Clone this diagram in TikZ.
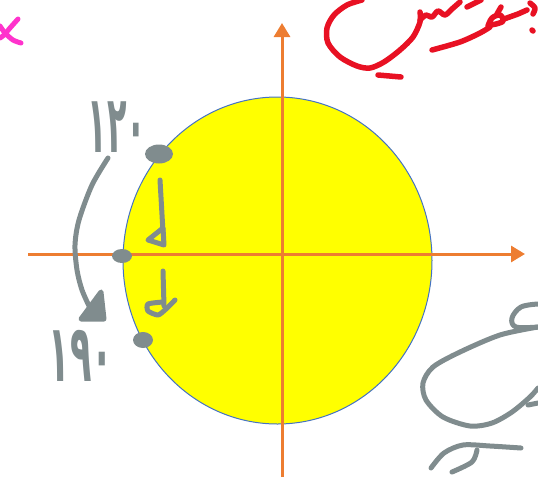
\documentclass[tikz,border=0pt]{standalone}
\usepackage{fontspec}
\newfontfamily\fadigits{DejaVu Sans}
\usetikzlibrary{arrows.meta,shapes.geometric}
\definecolor{axisorange}{RGB}{237,125,49}
\definecolor{circblue}{RGB}{68,114,196}
\definecolor{circyellow}{RGB}{255,255,0}
\definecolor{inkgray}{RGB}{128,140,142}
\definecolor{inkred}{RGB}{232,17,35}
\definecolor{inkpink}{RGB}{255,51,204}
\tikzset{
  axisline/.style={draw=axisorange, line width=3pt, -{Triangle[width=16pt,length=14pt]}},
  pen/.style={line width=5pt, line cap=round, line join=round},
  graypen/.style={pen, draw=inkgray},
  redpen/.style={pen, draw=inkred, line width=5.5pt},
  pinkpen/.style={pen, draw=inkpink},
  blob/.style={ellipse, fill=inkgray, inner sep=0pt},
  digits/.style={text=inkgray, font=\fadigits\bfseries\fontsize{80}{80}\selectfont, inner sep=0pt}
}
\begin{document}
\begin{tikzpicture}[x=1pt,y=-1pt]
\useasboundingbox (0,0) rectangle (538,477);
% circle
\node[ellipse, draw=circblue, line width=1pt, fill=circyellow, minimum width=309pt, minimum height=327pt, inner sep=0pt] (circ) at (277.5,260.5) {};
% axes
\coordinate (xl) at (28,254);
\coordinate (xr) at (525,254);
\coordinate (yb) at (282,477);
\coordinate (yt) at (282,23);
\draw[axisline] (xl) -- (xr);
\draw[axisline] (yb) -- (yt);
% gray dots
\node[blob, minimum width=28pt, minimum height=19pt] (d1) at (159,154) {};
\node[blob, minimum width=20pt, minimum height=14pt] (d2) at (122,256) {};
\node[blob, minimum width=20pt, minimum height=16pt] (d3) at (143,340) {};
% digits
\node[digits] (t1) at (117,127) {\scalebox{0.40}[1]{۱۲۰}};
\node[digits] (t2) at (81,356) {\scalebox{0.44}[1]{۱۹۰}};
% big curved arrow
\draw[graypen] plot[smooth] coordinates {(108,158) (92,185) (79,220) (75,245) (77,270) (82,290) (90,308)};
\draw[graypen, fill=inkgray] (81,319) -- (104,319) -- (101,292) -- cycle;
% small arrows
\draw[graypen] (160,180) -- (163,232);
\draw[graypen] (163,228) -- (148,240) -- (164,245) -- cycle;
\draw[graypen] (163,271) -- (164,306);
\draw[graypen] plot[smooth, tension=0.4] coordinates {(163,302) (148,304) (148,311) (158,315) (166,309) (175,300)};
% bird-like scribble bottom right
\draw[graypen] plot[smooth, tension=0.6] coordinates {(538,304) (521,307) (512,318) (516,327) (538,327)};
\draw[graypen] plot[smooth, tension=0.5] coordinates {(538,327) (500,335) (460,352) (433,367) (423,383) (426,400) (443,417) (470,426) (492,423) (512,412) (530,397) (538,388)};
\draw[graypen] (528,405) -- (538,403);
\draw[graypen] plot[smooth, tension=0.5] coordinates {(521,448) (490,446) (463,445) (444,453) (431,468)};
\draw[graypen] plot[smooth, tension=0.5] coordinates {(477,450) (472,462) (452,472)};
% red scribble top right
\draw[redpen] plot[smooth, tension=0.5] coordinates {(362,0) (347,5) (334,15) (327,28) (328,43) (340,57) (357,66) (370,68) (384,62) (400,50) (413,37) (420,22) (420,12)};
\draw[redpen] plot[smooth, tension=0.5] coordinates {(420,20) (426,15) (432,17) (438,11) (445,15) (452,9) (460,2)};
\draw[redpen] (467,7) -- (481,0);
\draw[redpen] (378,75) -- (401,77);
\draw[redpen] plot[smooth, tension=0.5] coordinates {(432,50) (460,42) (480,33) (490,27)};
\draw[redpen] plot[smooth, tension=0.6] coordinates {(488,26) (492,18) (500,15) (503,21) (496,24) (489,25)};
\draw[redpen] (497,14) -- (501,7);
\draw[redpen] (504,19) -- (518,14) -- (527,10);
\draw[redpen] plot[smooth] coordinates {(530,3) (535,8) (533,14)};
\draw[redpen] (532,30) -- (533,31);
% pink mark top left
\draw[pinkpen] plot[smooth] coordinates {(18,19) (10,28) (4,35) (0,38)};
\draw[pinkpen] plot[smooth] coordinates {(0,26) (5,33) (13,40) (21,43)};
\end{tikzpicture}
\end{document}
